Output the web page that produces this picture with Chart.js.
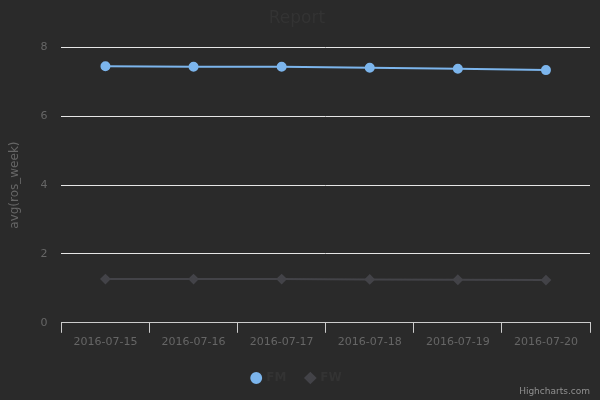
<!DOCTYPE html>
<html>
<head>
<meta charset="utf-8">
<script src="https://cdn.jsdelivr.net/npm/chart.js@4/dist/chart.umd.min.js"></script>
<style>
  body { margin: 0; background: #2a2a2a; }
  #wrap { position: relative; width: 600px; height: 400px; }
  #credit { position: absolute; right: 10px; bottom: 4px; font: 9px "DejaVu Sans", sans-serif; color: #909090; }
</style>
</head>
<body>
<div id="wrap">
  <canvas id="chart" width="600" height="400"></canvas>
  <div id="credit">Highcharts.com</div>
</div>
<script>
const categories = ["2016-07-15", "2016-07-16", "2016-07-17", "2016-07-18", "2016-07-19", "2016-07-20"];
const fmValues = [7.45, 7.44, 7.44, 7.41, 7.38, 7.34];
const fwValues = [1.27, 1.27, 1.27, 1.26, 1.25, 1.24];
const yTicks = [0, 2, 4, 6, 8];

Chart.defaults.font.family = "'DejaVu Sans', sans-serif";

new Chart(document.getElementById("chart"), {
  type: "line",
  data: {
    labels: categories,
    datasets: [
      {
        label: "FM",
        data: fmValues,
        borderColor: "#7cb5ec",
        backgroundColor: "#7cb5ec",
        borderWidth: 2,
        pointStyle: "circle",
        pointRadius: 4,
        tension: 0,
      },
      {
        label: "FW",
        data: fwValues,
        borderColor: "#434348",
        backgroundColor: "#434348",
        borderWidth: 2,
        pointStyle: "rectRot",
        pointRadius: 4,
        tension: 0,
      },
    ],
  },
  options: {
    responsive: false,
    animation: false,
    layout: { padding: { left: 4, right: 10, top: 0, bottom: 6 } },
    plugins: {
      title: {
        display: true,
        text: "Report",
        color: "#333333",
        font: { size: 17, weight: "normal" },
        padding: { top: 8, bottom: 19 },
      },
      legend: {
        position: "bottom",
        labels: {
          color: "#333333",
          font: { size: 12, weight: "bold" },
          usePointStyle: true,
          boxWidth: 8,
          boxHeight: 7,
          padding: 20,
        },
      },
      tooltip: { enabled: false },
    },
    scales: {
      x: {
        offset: true,
        grid: { offset: true, drawOnChartArea: false, color: "#cccccc", tickLength: 10 },
        border: { color: "#cccccc" },
        ticks: { color: "#666666", font: { size: 11 }, maxRotation: 0 },
      },
      y: {
        min: 0,
        max: 8,
        afterBuildTicks: (axis) => { axis.ticks = yTicks.map((v) => ({ value: v })); },
        grid: { color: "#e6e6e6", drawTicks: false },
        border: { display: false },
        ticks: { color: "#666666", font: { size: 11 }, padding: 14 },
        title: { display: true, text: "avg(ros_week)", color: "#666666", font: { size: 12 } },
      },
    },
  },
});
</script>
</body>
</html>
